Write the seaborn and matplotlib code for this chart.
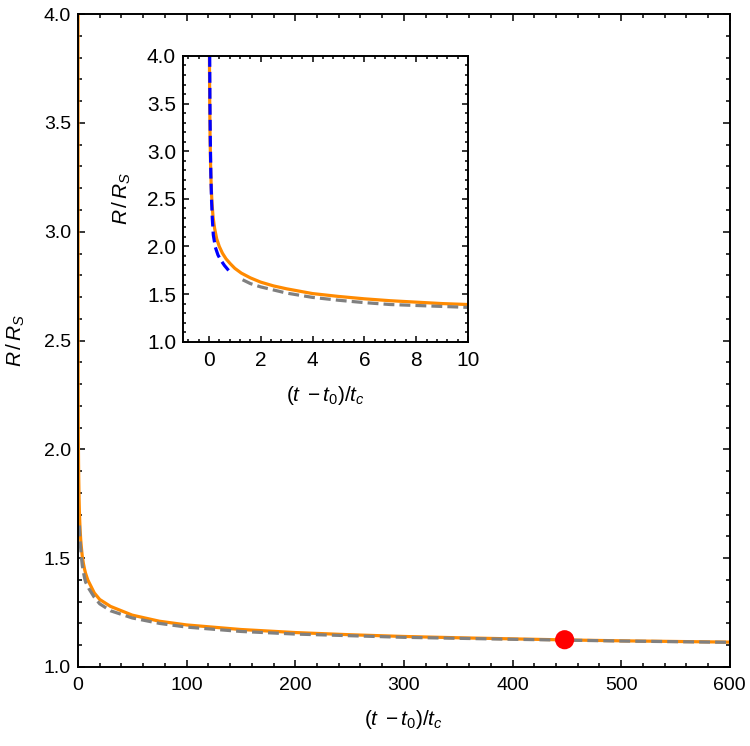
import numpy as np
import pandas as pd
import matplotlib
matplotlib.use('Agg')
import matplotlib.pyplot as plt
from matplotlib.ticker import MultipleLocator, FormatStrFormatter
import seaborn as sns

# orange solid curve (full solution)
t_full = [0.02, 0.03, 0.045, 0.065, 0.09, 0.12, 0.16, 0.22, 0.3, 0.4, 0.52, 0.66, 0.82, 1.0, 1.25, 1.6, 2, 2.5,
          3, 4, 5, 6, 7, 8, 9, 10, 15, 20, 30, 50, 75, 100, 150, 200, 250, 300, 350, 400, 450, 500, 550, 600]
r_full = [4.0, 3.55, 3.15, 2.85, 2.62, 2.45, 2.31, 2.19, 2.08, 2.0, 1.93, 1.87, 1.82, 1.77, 1.72, 1.67, 1.625,
          1.585, 1.555, 1.505, 1.475, 1.45, 1.43, 1.415, 1.40, 1.39, 1.34, 1.31, 1.278, 1.238, 1.21, 1.193,
          1.172, 1.158, 1.148, 1.14, 1.134, 1.129, 1.124, 1.12, 1.117, 1.114]

# grey dashed curve (late-time approximation)
t_late = [1.3, 1.6, 2, 3, 4, 5, 6, 7, 8, 9, 10, 15, 20, 30, 50, 75, 100, 150, 200, 300, 400, 500, 600]
r_late = [1.65, 1.61, 1.575, 1.51, 1.465, 1.435, 1.41, 1.39, 1.38, 1.37, 1.36, 1.32, 1.29, 1.258, 1.225, 1.2,
          1.183, 1.163, 1.151, 1.136, 1.127, 1.119, 1.113]

# blue dashed curve (early-time approximation)
t_early = [0.03, 0.04, 0.055, 0.075, 0.1, 0.13, 0.17, 0.25, 0.35, 0.45, 0.6, 0.8]
r_early = [4.0, 3.5, 3.1, 2.75, 2.5, 2.3, 2.12, 1.99, 1.91, 1.86, 1.8, 1.735]

# marked point
t_mark = [448]
r_mark = [1.125]

full = pd.DataFrame({'t': t_full, 'R': r_full})
late = pd.DataFrame({'t': t_late, 'R': r_late})
early = pd.DataFrame({'t': t_early, 'R': r_early})
mark = pd.DataFrame({'t': t_mark, 'R': r_mark})

sns.set_style('ticks')
plt.rcParams['font.family'] = ['Liberation Sans', 'DejaVu Sans']
plt.rcParams['mathtext.fontset'] = 'custom'
plt.rcParams['mathtext.rm'] = 'Liberation Sans'
plt.rcParams['mathtext.it'] = 'Liberation Sans:italic'
plt.rcParams['axes.linewidth'] = 1.4
plt.rcParams['axes.edgecolor'] = 'black'
plt.rcParams['text.color'] = 'black'
plt.rcParams['axes.labelcolor'] = 'black'
plt.rcParams['xtick.color'] = 'black'
plt.rcParams['ytick.color'] = 'black'

ORANGE = '#ff8a00'
GREY = '#808080'
BLUE = '#0000ff'
dash = (0, (3.4, 1.6))

xlab = r'$(t\;-t_0)/t_c$'
ylab = r'$R\,/\,R_S$'


def style_axes(ax, xmaj, xmin, ymaj, ymin, size, majlen, minlen):
    ax.xaxis.set_major_locator(MultipleLocator(xmaj))
    ax.xaxis.set_minor_locator(MultipleLocator(xmin))
    ax.yaxis.set_major_locator(MultipleLocator(ymaj))
    ax.yaxis.set_minor_locator(MultipleLocator(ymin))
    ax.tick_params(which='both', direction='in', top=True, right=True, labelsize=size, width=1.1)
    ax.tick_params(which='major', length=majlen)
    ax.tick_params(which='minor', length=minlen)
    ax.tick_params(axis='x', pad=7)
    ax.tick_params(axis='y', pad=5)
    ax.yaxis.set_major_formatter(FormatStrFormatter('%.1f'))


fig = plt.figure(figsize=(7.5, 7.46), dpi=100)
ax = fig.add_axes([0.104, 0.106, 0.869, 0.875])
sns.lineplot(data=full, x='t', y='R', ax=ax, color=ORANGE, lw=2.3, sort=False, estimator=None)
sns.lineplot(data=late, x='t', y='R', ax=ax, color=GREY, lw=2.3, linestyle=dash, sort=False, estimator=None)
sns.scatterplot(data=mark, x='t', y='R', ax=ax, color='red', s=190, edgecolor='none', zorder=5)
ax.set_xlim(0, 600)
ax.set_ylim(1.0, 4.0)
style_axes(ax, 100, 20, 0.5, 0.1, 14, 5, 3)
ax.set_xlabel(xlab, fontsize=15, labelpad=10)
ax.set_ylabel(ylab, fontsize=15, labelpad=12)

ins = fig.add_axes([0.244, 0.542, 0.38, 0.383])
sns.lineplot(data=full, x='t', y='R', ax=ins, color=ORANGE, lw=2.3, sort=False, estimator=None)
sns.lineplot(data=late, x='t', y='R', ax=ins, color=GREY, lw=2.3, linestyle=dash, sort=False, estimator=None)
sns.lineplot(data=early, x='t', y='R', ax=ins, color=BLUE, lw=2.3, linestyle=dash, sort=False, estimator=None)
ins.set_xlim(-1, 10)
ins.set_ylim(1.0, 4.0)
style_axes(ins, 2, 0.4, 0.5, 0.1, 15, 4, 2.5)
ins.xaxis.set_major_formatter(FormatStrFormatter('%d'))
ins.set_xlabel(xlab, fontsize=15, labelpad=10)
ins.set_ylabel(ylab, fontsize=15, labelpad=10)

fig.savefig('out.png', dpi=100)
